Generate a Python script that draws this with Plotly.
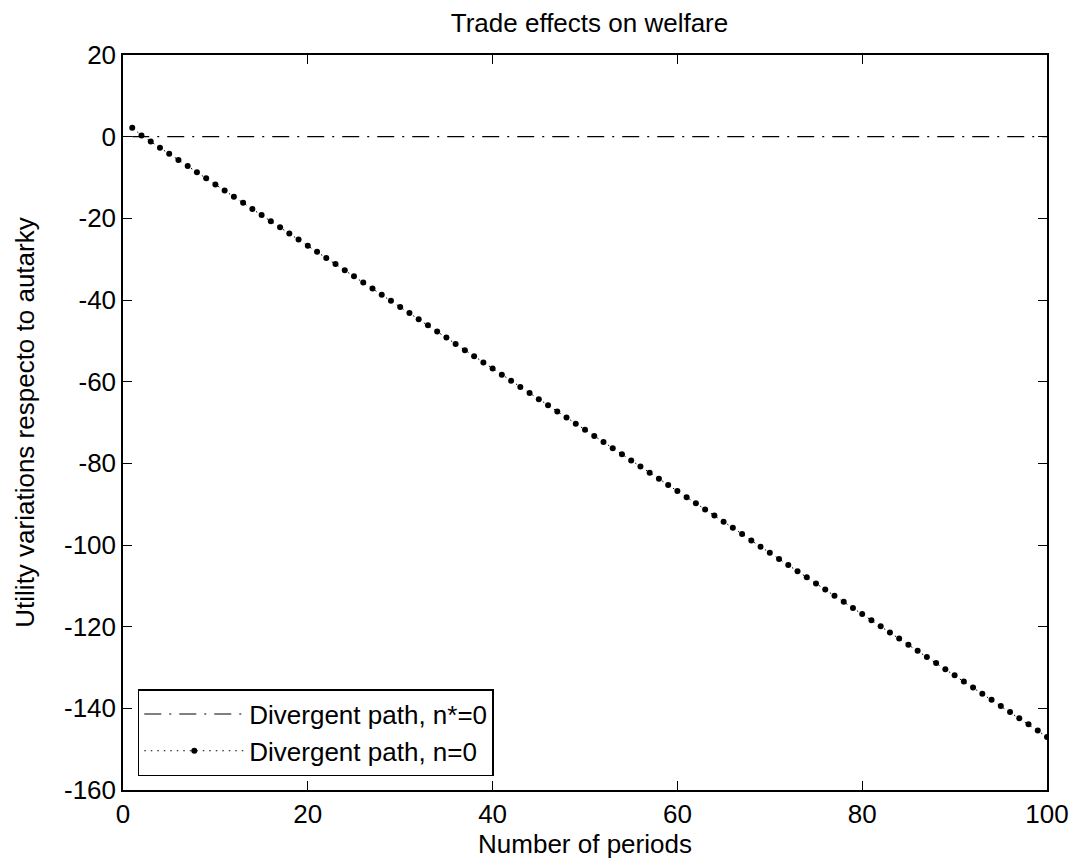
import plotly.graph_objects as go

# Data
periods = list(range(1, 101))
divergent_nstar0 = [0.0] * 100
divergent_n0 = [
    2.2, 0.3, -1.2, -2.7, -4.2, -5.7, -7.2, -8.7, -10.2, -11.7,
    -13.2, -14.7, -16.2, -17.7, -19.2, -20.7, -22.2, -23.7, -25.2, -26.7,
    -28.2, -29.7, -31.2, -32.7, -34.2, -35.7, -37.2, -38.7, -40.2, -41.7,
    -43.2, -44.7, -46.2, -47.7, -49.2, -50.8, -52.3, -53.8, -55.3, -56.8,
    -58.3, -59.8, -61.3, -62.8, -64.3, -65.8, -67.3, -68.8, -70.3, -71.8,
    -73.3, -74.8, -76.3, -77.8, -79.3, -80.8, -82.3, -83.8, -85.3, -86.8,
    -88.3, -89.8, -91.3, -92.8, -94.3, -95.8, -97.3, -98.9, -100.4, -101.9,
    -103.4, -104.9, -106.4, -107.9, -109.4, -110.9, -112.4, -113.9, -115.4, -116.9,
    -118.4, -119.9, -121.4, -122.9, -124.4, -125.9, -127.4, -128.9, -130.4, -131.9,
    -133.4, -134.9, -136.4, -137.9, -139.4, -140.9, -142.4, -143.9, -145.4, -147.0,
]
x_ticks = [0, 20, 40, 60, 80, 100]
x_tick_labels = ["0", "20", "40", "60", "80", "100"]
y_ticks = [-160, -140, -120, -100, -80, -60, -40, -20, 0, 20]
y_tick_labels = ["-160", "-140", "-120", "-100", "-80", "-60", "-40", "-20", "0", "20"]

FONT = "Liberation Sans, Arial, sans-serif"
FS = 26

fig = go.Figure()
fig.add_trace(go.Scatter(
    x=periods, y=divergent_nstar0, mode="lines",
    name="Divergent path, n*=0",
    line=dict(color="black", width=1.1, dash="17px,8px,2px,8px"),
))
fig.add_trace(go.Scatter(
    x=periods, y=divergent_n0, mode="lines+markers",
    name="Divergent path, n=0",
    line=dict(color="black", width=1, dash="1.5px,5px"),
    marker=dict(color="black", size=6, symbol="circle"),
))

axis_common = dict(
    showline=True, linecolor="black", linewidth=1.5, mirror="ticks",
    ticks="inside", ticklen=9, tickcolor="black", tickwidth=1,
    showgrid=False, zeroline=False,
    tickfont=dict(family=FONT, size=FS, color="black"),
)

fig.update_layout(
    width=1081, height=865,
    margin=dict(l=123, r=25, t=55, b=73),
    paper_bgcolor="white", plot_bgcolor="white",
    font=dict(family=FONT, size=FS, color="black"),
    title=dict(text="Trade effects on welfare", x=(123 + 1056) / 2 / 1081, xanchor="center",
               y=1 - 23 / 865, yanchor="middle",
               font=dict(family=FONT, size=FS, color="black")),
    xaxis=dict(range=[0, 100], tickvals=x_ticks, ticktext=x_tick_labels,
               title=dict(text="Number of periods", standoff=6,
                          font=dict(family=FONT, size=FS, color="black")),
               **axis_common),
    yaxis=dict(range=[-160, 20], tickvals=y_ticks, ticktext=y_tick_labels,
               title=dict(text="Utility variations respecto to autarky", standoff=22,
                          font=dict(family=FONT, size=FS, color="black")),
               **axis_common),
    legend=dict(x=0.016, xanchor="left", y=0.019, yanchor="bottom",
                bgcolor="white", bordercolor="black", borderwidth=1.5,
                itemwidth=100, tracegroupgap=0,
                font=dict(family=FONT, size=FS, color="black")),
    showlegend=True,
)

fig.write_html("out.html")
